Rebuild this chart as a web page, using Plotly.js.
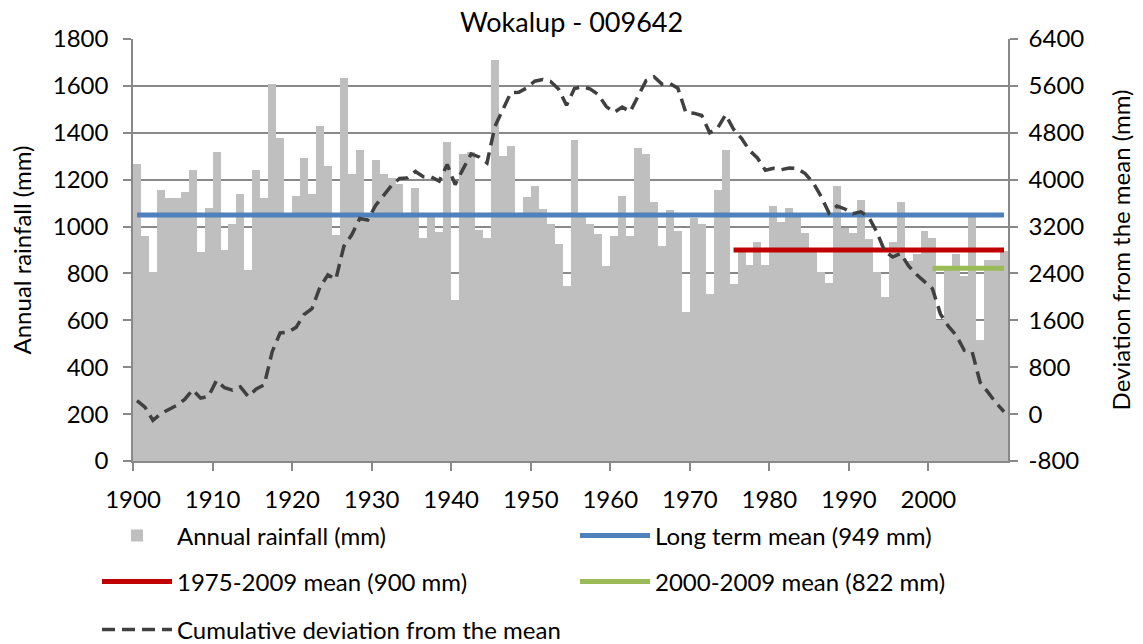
<!DOCTYPE html>
<html><head><meta charset="utf-8">
<script src="https://cdn.plot.ly/plotly-3.0.1.min.js"></script>
<style>html,body{margin:0;padding:0;background:#fff}#chart{width:1143px;height:644px}</style>
</head><body><div id="chart"></div>
<script>
const startYear = 1900;
const rainfall = [
1266,959,806,1155,1123,1123,1148,1241,892,1079,
1317,900,1012,1138,813,1241,1123,1610,1378,1045,
1130,1292,1138,1428,1258,963,1634,1224,1327,1055,
1284,1224,1209,1181,1045,1163,952,1040,976,1359,
687,1309,1317,985,952,1710,1302,1342,1040,1128,
1172,1076,1010,926,746,1370,1058,1012,969,830,
960,1129,960,1335,1309,1103,916,1069,983,634,
1037,1010,711,1155,1327,754,897,836,936,836,
1088,1019,1078,1042,972,905,806,760,1172,995,
972,1115,946,807,698,935,1106,851,885,979,
952,601,815,885,787,1040,515,856,856,894];
const cumulativeDeviation = [
230,120,-105,5,80,150,250,415,272,305,
575,450,410,465,300,430,500,1065,1385,1400,
1480,1700,1800,2165,2375,2300,2860,3059,3337,3310,
3560,3740,3900,4020,4030,4140,4050,4045,3976,4260,
3915,4184,4440,4388,4285,4910,5195,5485,5490,5565,
5680,5710,5675,5545,5270,5555,5585,5546,5450,5247,
5150,5238,5160,5420,5690,5755,5630,5640,5560,5145,
5135,5095,4800,4880,5110,4860,4705,4500,4370,4160,
4195,4170,4200,4190,4105,3950,3715,3430,3550,3500,
3420,3450,3360,3110,2780,2680,2740,2530,2380,2260,
2140,1710,1500,1340,1090,1060,540,370,190,40];
const longTermMean = 1049;
const longTermPeriod = [1900, 2009];
const mean1975 = 900;
const period1975 = [1975, 2009];
const mean2000 = 822;
const period2000 = [2000, 2009];
const xTickLabels = ['1900','1910','1920','1930','1940','1950','1960','1970','1980','1990','2000'];
const y2TickLabels = ['-800','0','800','1600','2400','3200','4000','4800','5600','6400'];

const years = rainfall.map((_, i) => startYear + i);
const xTickVals = xTickLabels.map(t => Number(t) - 0.5);
const y2TickVals = y2TickLabels.map(Number);

const FONT = 'Lato, "Open Sans", sans-serif';
const GRID = '#898989';

const traces = [
  {type:'bar', x:years, y:rainfall, name:'Annual rainfall (mm)', marker:{color:'#BFBFBF', line:{width:0}}, legend:'legend', hoverinfo:'x+y'},
  {type:'scatter', mode:'lines', x:longTermPeriod, y:[longTermMean, longTermMean], name:'Long term mean (949 mm)', line:{color:'#4F81BD', width:5}, legend:'legend2'},
  {type:'scatter', mode:'lines', x:period1975, y:[mean1975, mean1975], name:'1975-2009 mean (900 mm)', line:{color:'#C00000', width:5}, legend:'legend3'},
  {type:'scatter', mode:'lines', x:period2000, y:[mean2000, mean2000], name:'2000-2009 mean (822 mm)', line:{color:'#9BBB59', width:5}, legend:'legend4'},
  {type:'scatter', mode:'lines', x:years, y:cumulativeDeviation, yaxis:'y2', name:'Cumulative deviation from the mean', line:{color:'#404040', width:3.5, dash:'13px,7px'}, legend:'legend5'}
];

function legendAt(px, py) {
  return {orientation:'h', xref:'container', yref:'container', x:px/1143, y:1 - py/644, xanchor:'left', yanchor:'middle',
    itemwidth:70, font:{family:FONT, size:24, color:'#000'}, bgcolor:'rgba(0,0,0,0)'};
}

const layout = {
  width:1143, height:644,
  margin:{l:133, r:135, t:39, b:183, autoexpand:false},
  paper_bgcolor:'#fff', plot_bgcolor:'#fff',
  font:{family:FONT, size:24, color:'#000'},
  title:{text:'Wokalup - 009642', font:{family:FONT, size:27, color:'#000'}, x:0.5, xanchor:'center', y:0.965, yanchor:'middle'},
  bargap:0,
  showlegend:true,
  xaxis:{range:[1899.5, 2009.5], tickvals:xTickVals, ticktext:xTickLabels, ticks:'outside', ticklen:8, tickwidth:1.5, tickcolor:GRID,
         ticklabelstandoff:8, showline:true, linecolor:GRID, linewidth:1.5, showgrid:false, zeroline:false, tickfont:{family:FONT, size:24}, fixedrange:true},
  yaxis:{range:[0,1800], dtick:200, tick0:0, ticks:'outside', ticklen:8, tickwidth:1.5, tickcolor:GRID, showline:true, linecolor:GRID, linewidth:1.5,
         ticklabelstandoff:10, showgrid:true, gridcolor:GRID, gridwidth:1.5, zeroline:false, tickfont:{family:FONT, size:24},
         title:{text:'Annual rainfall (mm)', font:{family:FONT, size:24}, standoff:14}, fixedrange:true},
  yaxis2:{overlaying:'y', side:'right', range:[-800,6400], tickvals:y2TickVals, ticktext:y2TickLabels, ticks:'outside', ticklen:8, tickwidth:1.5, tickcolor:GRID,
          ticklabelstandoff:6, showline:true, linecolor:GRID, linewidth:1.5, showgrid:false, zeroline:false, tickfont:{family:FONT, size:24},
          title:{text:'Deviation from the mean (mm)', font:{family:FONT, size:24}, standoff:30}, fixedrange:true},
  legend:legendAt(97, 536),
  legend2:legendAt(575, 536),
  legend3:legendAt(97, 582),
  legend4:legendAt(575, 582),
  legend5:legendAt(97, 630)
};

Plotly.newPlot('chart', traces, layout, {displayModeBar:false, responsive:false});
</script>
</body></html>
